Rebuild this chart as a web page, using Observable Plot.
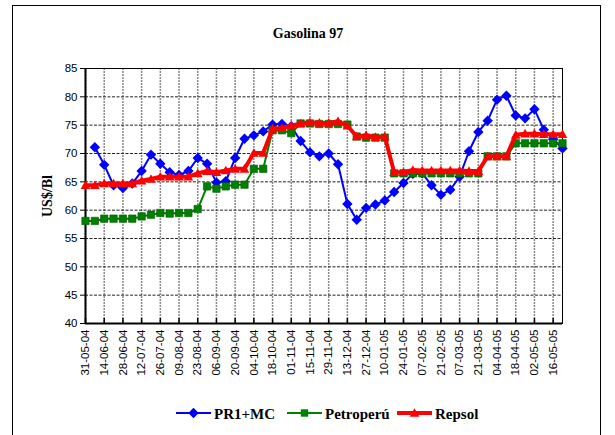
<!DOCTYPE html>
<html><head><meta charset="utf-8">
<script src="https://cdn.jsdelivr.net/npm/d3@7"></script>
<script src="https://cdn.jsdelivr.net/npm/@observablehq/plot@0.6"></script>
<style>
body{margin:0;background:#fff;}
#wrap{position:relative;width:615px;height:435px;overflow:hidden;background:#fff}
#border{position:absolute;left:12px;top:5px;width:589px;height:440px;border:1.5px solid #000;box-sizing:border-box}
#chart{position:absolute;left:0;top:0}
#over{position:absolute;left:0;top:0}
</style></head><body>
<div id="wrap"><div id="border"></div><div id="chart"></div>
<svg id="over" width="615" height="435"></svg></div>
<script>
const weeks = ["31-05-04","07-06-04","14-06-04","21-06-04","28-06-04","05-07-04","12-07-04","19-07-04","26-07-04","02-08-04","09-08-04","16-08-04","23-08-04","30-08-04","06-09-04","13-09-04","20-09-04","27-09-04","04-10-04","11-10-04","18-10-04","25-10-04","01-11-04","08-11-04","15-11-04","22-11-04","29-11-04","06-12-04","13-12-04","20-12-04","27-12-04","03-01-05","10-01-05","17-01-05","24-01-05","31-01-05","07-02-05","14-02-05","21-02-05","28-02-05","07-03-05","14-03-05","21-03-05","28-03-05","04-04-05","11-04-05","18-04-05","25-04-05","02-05-05","09-05-05","16-05-05","23-05-05"];
const tickLabels = ["31-05-04","14-06-04","28-06-04","12-07-04","26-07-04","09-08-04","23-08-04","06-09-04","20-09-04","04-10-04","18-10-04","01-11-04","15-11-04","29-11-04","13-12-04","27-12-04","10-01-05","24-01-05","07-02-05","21-02-05","07-03-05","21-03-05","04-04-05","18-04-05","02-05-05","16-05-05"];
const yTicks = [40,45,50,55,60,65,70,75,80,85];
const seriesNames = ["PR1+MC","Petroperú","Repsol"];
const pr1mc = [null,71.1,68.0,64.4,63.9,64.7,66.9,69.8,68.2,66.7,66.2,66.9,69.2,68.2,64.9,65.1,69.2,72.6,73.2,73.9,75.1,75.2,74.8,72.2,70.2,69.5,70.0,68.1,61.1,58.3,60.4,61.0,61.7,63.2,64.8,66.4,66.5,64.4,62.7,63.6,65.9,70.4,73.8,75.8,79.5,80.2,76.7,76.2,77.8,74.2,72.5,70.9];
const petroperu = [58.1,58.1,58.5,58.5,58.5,58.5,58.9,59.2,59.5,59.4,59.5,59.5,60.2,64.2,63.8,64.2,64.5,64.5,67.3,67.3,74.1,74.1,73.6,75.3,75.3,75.2,75.2,75.2,75.1,73.0,72.8,72.8,72.8,66.5,66.5,66.5,66.5,66.5,66.5,66.5,66.5,66.5,66.5,69.5,69.5,69.5,71.8,71.8,71.8,71.8,71.8,71.8];
const repsol = [64.4,64.4,64.7,64.7,64.7,64.7,65.2,65.5,65.9,65.9,65.9,65.9,66.5,66.9,66.7,67.0,67.3,67.3,70.1,70.1,74.4,74.5,74.9,75.3,75.5,75.4,75.4,75.7,74.9,73.0,73.2,72.9,73.0,66.7,66.7,67.1,67.0,67.0,67.0,67.0,67.0,66.9,66.9,69.5,69.5,69.5,73.3,73.5,73.5,73.4,73.4,73.4];
const colors = ["#0000ff","#008000","#ff0000"];

const rows = weeks.map((w,i)=>({week:w, pr1:pr1mc[i], petro:petroperu[i], rep:repsol[i]}));

const diamond = {draw(ctx,size){const s=Math.sqrt(size/Math.PI);ctx.moveTo(0,-s);ctx.lineTo(s,0);ctx.lineTo(0,s);ctx.lineTo(-s,0);ctx.closePath();}};
const square = {draw(ctx,size){const s=Math.sqrt(size/Math.PI);ctx.rect(-s,-s,2*s,2*s);}};
const triangle = {draw(ctx,size){const s=Math.sqrt(size/Math.PI);ctx.moveTo(0,-s);ctx.lineTo(s,s*0.8);ctx.lineTo(-s,s*0.8);ctx.closePath();}};

const chart = Plot.plot({
  width: 615, height: 435,
  marginLeft: 85, marginRight: 53, marginTop: 68, marginBottom: 112,
  style: {fontFamily: "'Liberation Sans', Arial, sans-serif", fontSize: "11px", color: "#000", background: "transparent", overflow: "visible"},
  x: {type: "point", domain: weeks, padding: 0, round: false},
  y: {domain: [40, 85]},
  marks: [
    Plot.ruleX(tickLabels, {x: d => d, stroke: "#8a8a8a", strokeWidth: 1.5, strokeDasharray: "2,1"}),
    Plot.ruleY(yTicks, {y: d => d, stroke: "#222", strokeWidth: 1, strokeDasharray: "3,1.5"}),
    Plot.axisY(yTicks, {tickSize: 5, tickPadding: 3, label: null, fontSize: 11.5}),
    Plot.axisX(tickLabels, {tickSize: 0, tickPadding: 6, tickRotate: -90, label: null, fontSize: 11.5}),
    Plot.ruleX(tickLabels, {x: d => d, y1: 40, y2: 40, insetTop: -5, stroke: "#000", strokeWidth: 1.5}),
    Plot.frame({stroke: "#000", strokeWidth: 1}),
    Plot.ruleX([weeks[0]], {stroke: "#000", strokeWidth: 2}),
    Plot.ruleY([40], {stroke: "#000", strokeWidth: 2}),
    Plot.line(rows, {x: "week", y: "pr1", stroke: colors[0], strokeWidth: 2}),
    Plot.dot(rows, {x: "week", y: "pr1", symbol: diamond, r: 5.2, fill: colors[0], stroke: "none"}),
    Plot.line(rows, {x: "week", y: "petro", stroke: colors[1], strokeWidth: 2}),
    Plot.dot(rows, {x: "week", y: "petro", symbol: square, r: 3.7, fill: colors[1], stroke: "#005a00", strokeWidth: 0.6}),
    Plot.line(rows, {x: "week", y: "rep", stroke: colors[2], strokeWidth: 4}),
    Plot.dot(rows, {x: "week", y: "rep", symbol: triangle, r: 4.8, fill: colors[2], stroke: "none"})
  ]
});
document.getElementById("chart").appendChild(chart);

// title, axis label, legend
const over = d3.select("#over");
const serif = "'Liberation Serif', 'Times New Roman', serif";
over.append("text").attr("x", 308).attr("y", 38).attr("text-anchor", "middle")
  .attr("font-family", serif).attr("font-weight", "bold").attr("font-size", 14).text("Gasolina 97");
over.append("text").attr("transform", "translate(52,196) rotate(-90)").attr("text-anchor", "middle")
  .attr("font-family", serif).attr("font-weight", "bold").attr("font-size", 14).text("US$/Bl");
const legX = [176, 287, 397];
const syms = [diamond, square, triangle];
const symR = [5.2, 3.7, 4.8];
const lw = [2, 2, 4];
const ly = 413;
seriesNames.forEach((name, k) => {
  const g = over.append("g");
  g.append("line").attr("x1", legX[k]).attr("x2", legX[k] + 35).attr("y1", ly).attr("y2", ly)
    .attr("stroke", colors[k]).attr("stroke-width", lw[k]);
  const p = d3.path(); syms[k].draw(p, symR[k] * symR[k] * Math.PI);
  g.append("path").attr("d", p.toString()).attr("transform", `translate(${legX[k] + 17.5},${ly})`)
    .attr("fill", colors[k]);
  g.append("text").attr("x", legX[k] + 38).attr("y", ly + 5.5).attr("font-family", serif)
    .attr("font-weight", "bold").attr("font-size", 15).text(name);
});
</script>
</body></html>
